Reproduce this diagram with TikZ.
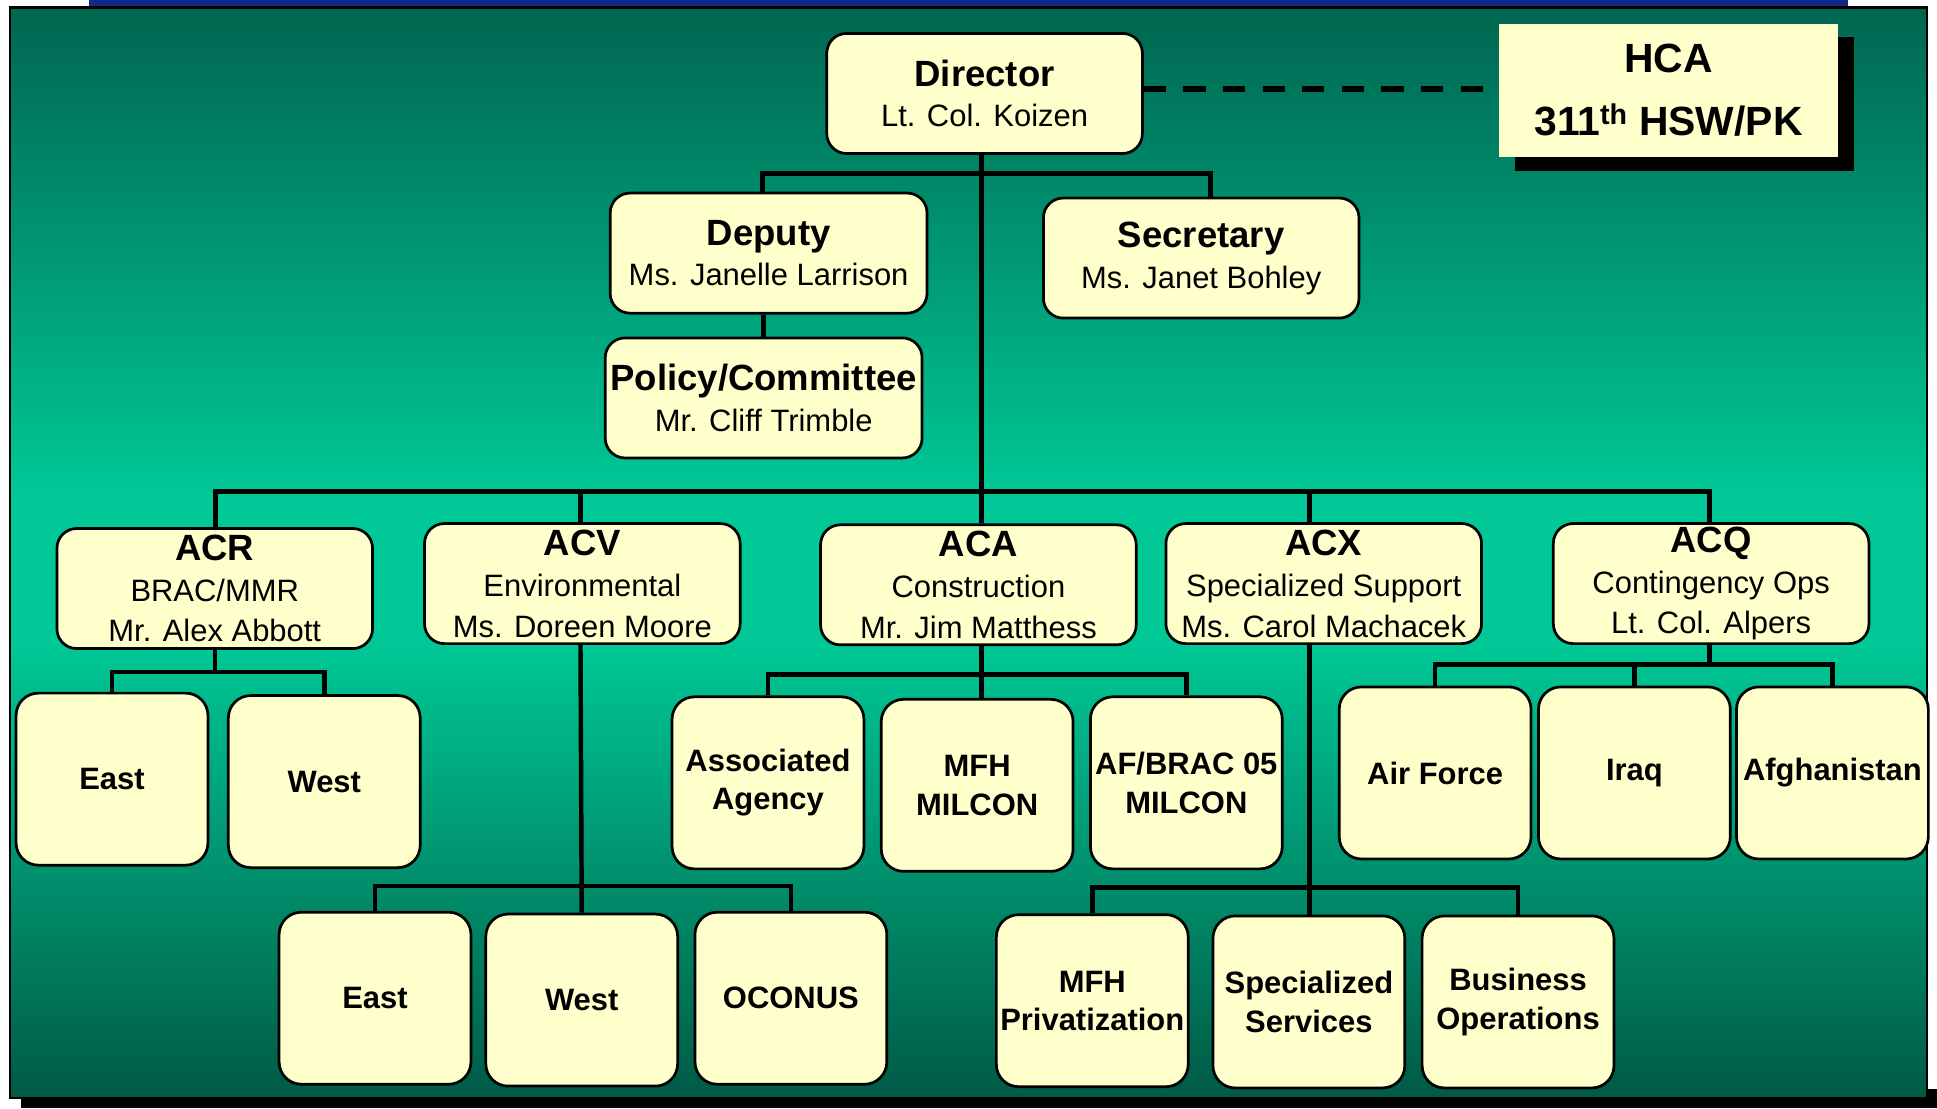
\documentclass[tikz,border=0pt]{standalone}
\usepackage{fontspec}
\setmainfont{Liberation Sans}
\usetikzlibrary{shadows}
\definecolor{boxy}{HTML}{FFFFCC}
\definecolor{gdark}{HTML}{006650}
\definecolor{gbright}{HTML}{00C896}
\definecolor{gbot}{HTML}{005A45}
\definecolor{barblue}{HTML}{13298A}
\newcommand{\ttl}{\fontsize{29.5}{33}\selectfont\bfseries}
\begin{document}
\begin{tikzpicture}[x=1pt,y=-1pt,
  abox/.style={draw, line width=2.2pt, fill=boxy, rounded corners=16pt,
    minimum width=255pt, minimum height=97pt, inner sep=0pt, align=center,
    font=\fontsize{25}{33}\selectfont},
  leaf/.style={draw, line width=2.2pt, fill=boxy, rounded corners=18pt,
    minimum width=155pt, minimum height=139pt, inner sep=0pt, align=center,
    font=\fontsize{25}{31}\selectfont\bfseries},
  conn/.style={line width=3.6pt, line join=miter},
  hcaline/.style={line width=4.5pt, dash pattern=on 18pt off 14pt}
]
\useasboundingbox (0,0) rectangle (1565,895.3);
\fill[white] (0,0) rectangle (1565,895.3);
\fill[barblue] (72,0) rectangle (1493,5);
\fill[black] (17,880) rectangle (1565,895.3);
\shade[top color=gdark,bottom color=gbright] (8,6) rectangle (1557,400);
\fill[gbright] (8,399) rectangle (1557,521);
\shade[top color=gbright,bottom color=gbot] (8,520) rectangle (1557,887);
\draw[line width=2pt] (8,6) rectangle (1557,887);

% top level
\node[abox] (Director) at (795.5,75.5) {{\ttl Director}\\Lt. Col. Koizen};
\node[fill=boxy, minimum width=274pt, minimum height=108pt, inner sep=0pt, align=center,
  font=\fontsize{33}{51}\selectfont\bfseries,
  drop shadow={shadow xshift=13pt, shadow yshift=-11pt, opacity=1, fill=black}]
  (HCA) at (1348,73) {HCA\\311\textsuperscript{th} HSW/PK};
\node[abox, minimum width=256pt] (Deputy) at (621,204.5) {{\ttl Deputy}\\Ms. Janelle Larrison};
\node[abox] (Secretary) at (970.5,208.5) {{\ttl Secretary}\\Ms. Janet Bohley};
\node[abox, minimum width=256pt] (Policy) at (617,321.5) {{\ttl Policy/Committee}\\Mr. Cliff Trimble};

% divisions
\node[abox] (ACR) at (173.5,475.5) {{\ttl ACR}\\BRAC/MMR\\Mr. Alex Abbott};
\node[abox] (ACV) at (470.5,471.5) {{\ttl ACV}\\Environmental\\Ms. Doreen Moore};
\node[abox] (ACA) at (790.5,472.5) {{\ttl ACA}\\Construction\\Mr. Jim Matthess};
\node[abox] (ACX) at (1069.5,471.5) {{\ttl ACX}\\Specialized Support\\Ms. Carol Machacek};
\node[abox] (ACQ) at (1382.5,471.5) {{\ttl ACQ}\\Contingency Ops\\Lt. Col. Alpers};

% leaves
\node[leaf] (EastR) at (90.5,629.5) {East};
\node[leaf] (WestR) at (262,631.5) {West};
\node[leaf] (EastV) at (303,806.5) {East};
\node[leaf] (WestV) at (470,808) {West};
\node[leaf] (Oconus) at (639,806.5) {OCONUS};
\node[leaf] (Assoc) at (620.5,632.5) {Associated\\Agency};
\node[leaf] (MfhMil) at (789.5,634.5) {MFH\\MILCON};
\node[leaf] (AfBrac) at (958.5,632.5) {AF/BRAC 05\\MILCON};
\node[leaf] (MfhPriv) at (882.5,808.5) {MFH\\Privatization};
\node[leaf] (SpecServ) at (1057.5,809.5) {Specialized\\Services};
\node[leaf] (Business) at (1226.5,809.5) {Business\\Operations};
\node[leaf] (AirForce) at (1159.5,624.5) {Air Force};
\node[leaf] (Iraq) at (1320.5,624.5) {Iraq};
\node[leaf] (Afghan) at (1480.5,624.5) {Afghanistan};

% connectors
\draw[hcaline] (Director.east |- 0,72) -- (HCA.west |- 0,72);
\draw[conn] ([xshift=-2.5pt]Director.south) -- ([xshift=-2.5pt]Director.south |- 0,397);
\draw[conn] ([xshift=-5pt]Deputy.north) |- ([xshift=7.5pt]Secretary.north |- 0,140) -- ([xshift=7.5pt]Secretary.north);
\draw[conn] (Policy.north |- Deputy.south) -- (Policy.north);
\draw[conn] ([xshift=0.5pt]ACR.north) |- ([xshift=-1.5pt]ACQ.north |- 0,397) -- ([xshift=-1.5pt]ACQ.north);
\draw[conn] ([xshift=-1.5pt]ACV.north |- 0,397) -- ([xshift=-1.5pt]ACV.north);
\draw[conn] ([xshift=2.5pt]ACA.north |- 0,397) -- ([xshift=2.5pt]ACA.north);
\draw[conn] ([xshift=-11.5pt]ACX.north |- 0,397) -- ([xshift=-11.5pt]ACX.north);

\draw[conn] (ACR.south) -- (ACR.south |- 0,543);
\draw[conn] (EastR.north) |- (WestR.north |- 0,543) -- (WestR.north);

\draw[conn] ([xshift=-1.5pt]ACV.south) -- (WestV.north);
\draw[conn] (EastV.north) |- (Oconus.north |- 0,716) -- (Oconus.north);

\draw[conn] ([xshift=2.5pt]ACA.south) -- ([xshift=2.5pt]ACA.south |- MfhMil.north);
\draw[conn] (Assoc.north) |- (AfBrac.north |- 0,545) -- (AfBrac.north);

\draw[conn] ([xshift=-11.5pt]ACX.south) -- ([xshift=-11.5pt]ACX.south |- SpecServ.north);
\draw[conn] (MfhPriv.north) |- (Business.north |- 0,717) -- (Business.north);

\draw[conn] ([xshift=-1.5pt]ACQ.south) -- ([xshift=-1.5pt]ACQ.south |- 0,537);
\draw[conn] (Iraq.north) -- (Iraq.north |- 0,537);
\draw[conn] (AirForce.north) |- (Afghan.north |- 0,537) -- (Afghan.north);
\end{tikzpicture}
\end{document}
